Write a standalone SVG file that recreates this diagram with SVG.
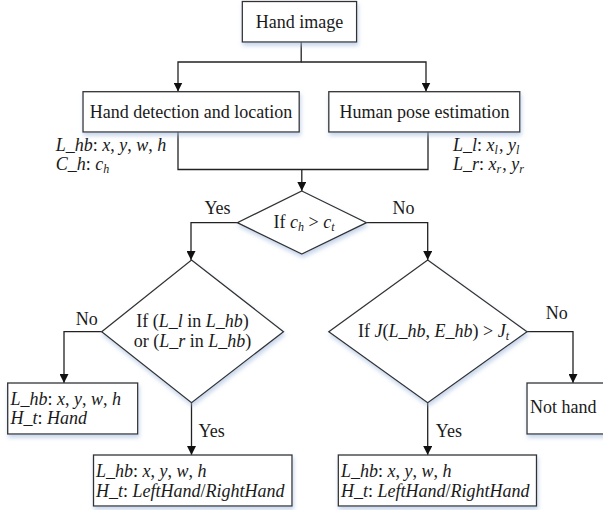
<svg xmlns="http://www.w3.org/2000/svg" width="603" height="510" viewBox="0 0 603 510">
<style>
text{font-family:"Liberation Serif","Times New Roman",serif;font-size:18px;fill:#1a1a1a}
.i{font-style:italic}
.s{font-size:12px}
.c{text-anchor:middle}
.box{fill:#fff;stroke:#333;stroke-width:1.3}
.ln{fill:none;stroke:#222;stroke-width:1.3}
</style>
<defs>
<filter id="sh" x="-10%" y="-10%" width="130%" height="140%">
<feDropShadow dx="1" dy="3" stdDeviation="2" flood-color="#9fb8dc" flood-opacity="0.6"/>
</filter>
<marker id="ar" viewBox="0 0 10 10" refX="10" refY="5" markerWidth="9" markerHeight="9" markerUnits="userSpaceOnUse" orient="auto">
<path d="M0,0 L10,5 L0,10 z" fill="#111"/>
</marker>
</defs>
<g id="connectors">
<path class="ln" d="M301.2,42 V62 H178 V91.5" marker-end="url(#ar)"/>
<path class="ln" d="M301.2,62 H426 V91.5" marker-end="url(#ar)"/>
<path class="ln" d="M178,132 V169.5 H428 V132"/>
<path class="ln" d="M301.8,169.5 V191" marker-end="url(#ar)"/>
<path class="ln" d="M237.3,222.7 H191 V260" marker-end="url(#ar)"/>
<path class="ln" d="M366.5,222.7 H427.7 V260" marker-end="url(#ar)"/>
<path class="ln" d="M101.7,331.7 H64 V383" marker-end="url(#ar)"/>
<path class="ln" d="M191.5,402.7 V455" marker-end="url(#ar)"/>
<path class="ln" d="M527,331.7 H573 V383" marker-end="url(#ar)"/>
<path class="ln" d="M427.7,402.7 V455" marker-end="url(#ar)"/>
<text x="217.5" y="214" class="c">Yes</text>
<text x="403.5" y="214" class="c">No</text>
<text x="86.7" y="325" class="c">No</text>
<text x="198.5" y="437">Yes</text>
<text x="556.7" y="319" class="c">No</text>
<text x="435.8" y="437">Yes</text>
</g>
<g id="hand-image">
<rect class="box" x="242.3" y="1.5" width="114.3" height="40.5" filter="url(#sh)"/>
<text x="299.5" y="28" class="c">Hand image</text>
</g>
<g id="hand-detection">
<rect class="box" x="83" y="91.7" width="216.2" height="40.3" filter="url(#sh)"/>
<text x="191" y="118" class="c">Hand detection and location</text>
<text x="55.8" y="150.5"><tspan class="i">L_hb</tspan>: <tspan class="i">x</tspan>, <tspan class="i">y</tspan>, <tspan class="i">w</tspan>, <tspan class="i">h</tspan></text>
<text x="55.8" y="169.5"><tspan class="i">C_h</tspan>: <tspan class="i">c</tspan><tspan class="i s" dy="3">h</tspan></text>
</g>
<g id="human-pose">
<rect class="box" x="328.8" y="91.7" width="191" height="40.3" filter="url(#sh)"/>
<text x="424.5" y="118" class="c">Human pose estimation</text>
<text x="453" y="151"><tspan class="i">L_l</tspan>: <tspan class="i">x</tspan><tspan class="i s" dy="3">l</tspan><tspan dx="1" dy="-3">, </tspan><tspan class="i">y</tspan><tspan class="i s" dy="3">l</tspan></text>
<text x="453" y="170"><tspan class="i">L_r</tspan>: <tspan class="i">x</tspan><tspan class="i s" dy="3">r</tspan><tspan dx="1" dy="-3">, </tspan><tspan class="i">y</tspan><tspan class="i s" dy="3">r</tspan></text>
</g>
<g id="decision-confidence">
<path class="box" d="M301.8,191 L366.5,222.7 L301.8,254 L237.3,222.7 Z" filter="url(#sh)"/>
<text x="304" y="228" class="c">If <tspan class="i">c</tspan><tspan class="i s" dy="3">h</tspan><tspan dy="-3"> &gt; </tspan><tspan class="i">c</tspan><tspan class="i s" dy="3">t</tspan></text>
</g>
<g id="decision-inside">
<path class="box" d="M191.5,260 L283.5,331.7 L191.5,402.7 L101.7,331.7 Z" filter="url(#sh)"/>
<text x="192.5" y="327" class="c">If (<tspan class="i">L_l</tspan> in <tspan class="i">L_hb</tspan>)</text>
<text x="192.5" y="347" class="c">or (<tspan class="i">L_r</tspan> in <tspan class="i">L_hb</tspan>)</text>
</g>
<g id="decision-iou">
<path class="box" d="M427.7,260 L527,331.7 L427.7,402.7 L328.8,331.7 Z" filter="url(#sh)"/>
<text x="433.6" y="337" class="c">If <tspan class="i">J</tspan>(<tspan class="i">L_hb</tspan>, <tspan class="i">E_hb</tspan>) &gt; <tspan class="i">J</tspan><tspan class="i s" dy="3">t</tspan></text>
</g>
<g id="result-hand">
<rect class="box" x="7.7" y="383" width="130" height="51" filter="url(#sh)"/>
<text x="10.4" y="405"><tspan class="i">L_hb</tspan>: <tspan class="i">x</tspan>, <tspan class="i">y</tspan>, <tspan class="i">w</tspan>, <tspan class="i">h</tspan></text>
<text x="10.4" y="424"><tspan class="i">H_t</tspan>: <tspan class="i">Hand</tspan></text>
</g>
<g id="result-left-right-1">
<rect class="box" x="93.5" y="455" width="198.5" height="51" filter="url(#sh)"/>
<text x="96" y="476.5"><tspan class="i">L_hb</tspan>: <tspan class="i">x</tspan>, <tspan class="i">y</tspan>, <tspan class="i">w</tspan>, <tspan class="i">h</tspan></text>
<text x="96" y="496.5"><tspan class="i">H_t</tspan>: <tspan class="i">LeftHand</tspan>/<tspan class="i">RightHand</tspan></text>
</g>
<g id="result-left-right-2">
<rect class="box" x="338.3" y="455" width="198.2" height="51" filter="url(#sh)"/>
<text x="341" y="476.5"><tspan class="i">L_hb</tspan>: <tspan class="i">x</tspan>, <tspan class="i">y</tspan>, <tspan class="i">w</tspan>, <tspan class="i">h</tspan></text>
<text x="341" y="496.5"><tspan class="i">H_t</tspan>: <tspan class="i">LeftHand</tspan>/<tspan class="i">RightHand</tspan></text>
</g>
<g id="not-hand">
<rect class="box" x="527" y="383" width="90" height="51" filter="url(#sh)"/>
<text x="530" y="413">Not hand</text>
</g>
</svg>
